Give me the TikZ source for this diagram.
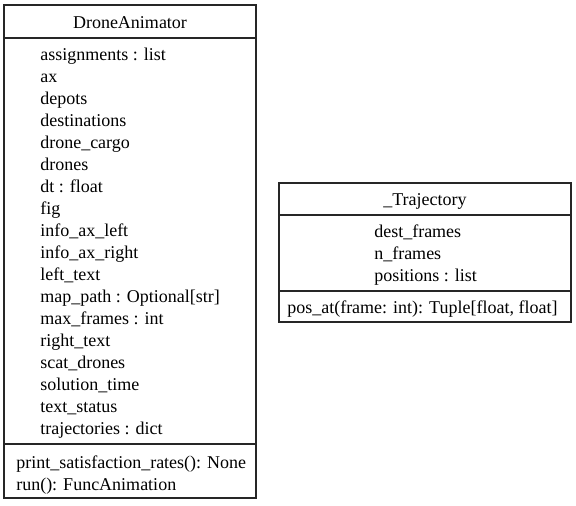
\documentclass[tikz,border=0pt]{standalone}
\usepackage{fontspec}
\setmainfont{Liberation Serif}

\begin{document}
\begin{tikzpicture}
	[%
	x=0.75pt, y=-0.75pt,%
	box/.style    ={draw=black!85,	line width=0.9pt},%
	title/.style  ={inner sep=0pt,	font=\fontsize{13.5}{16}\selectfont},%
	member/.style ={inner sep=0pt,	anchor=mid west,	font=\fontsize{13.5}{16}\selectfont},%
	]

	\useasboundingbox (0,0) rectangle (576,506);

	% boxes
	% DroneAnimator
	\draw [box] (4,5) rectangle (256,498);
	\draw [box] (4,38) -- (256,38);
	\draw [box] (4,444) -- (256,444);
	% _Trajectory
	\draw [box] (279,183) rectangle (571,322);
	\draw [box] (279,215) -- (571,215);
	\draw [box] (279,291) -- (571,291);

	% nodes
	% DroneAnimator
	\node (animTitle) at (130,23) [title] {DroneAnimator};
	\foreach \n/\t in {	0/assignments : list, 1/ax, 2/depots, 3/destinations, 4/drone\_cargo, %
						5/drones, 6/dt : float, 7/fig, 8/info\_ax\_left, 9/info\_ax\_right, %
						10/left\_text, 11/map\_path : Optional[str], 12/max\_frames : int, %
						13/right\_text, 14/scat\_drones, 15/solution\_time, 16/text\_status, %
						17/trajectories : dict}
		\node (animAttr\n) at (40,57+22*\n) [member] {\t};
	\foreach \n/\t in {0/print\_satisfaction\_rates(): None, 1/run(): FuncAnimation}
		\node (animMeth\n) at (16,465+22*\n) [member] {\t};

	% _Trajectory
	\node (trajTitle) at (425,201) [title] {\_Trajectory};
	\foreach \n/\t in {0/dest\_frames, 1/n\_frames, 2/positions : list}
		\node (trajAttr\n) at (374,234+22*\n) [member] {\t};
	\node (trajMeth0) at (287,310) [member] {pos\_at(frame: int): Tuple[float, float]};

\end{tikzpicture}
\end{document}
